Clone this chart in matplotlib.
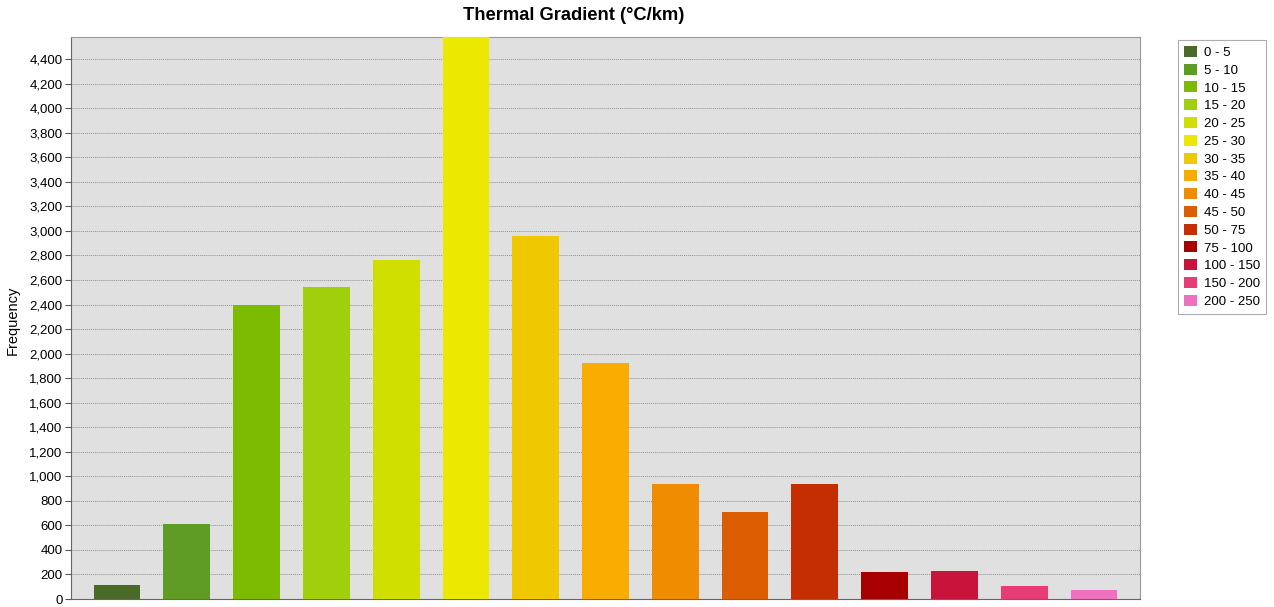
import matplotlib
matplotlib.use("Agg")
import matplotlib.pyplot as plt
from matplotlib.patches import Patch
from matplotlib.ticker import FuncFormatter, MultipleLocator

# classes de gradient et frequences
classes = ["0 - 5", "5 - 10", "10 - 15", "15 - 20", "20 - 25", "25 - 30", "30 - 35", "35 - 40",
           "40 - 45", "45 - 50", "50 - 75", "75 - 100", "100 - 150", "150 - 200", "200 - 250"]
frequency = [115, 615, 2395, 2545, 2765, 4700, 2955, 1925, 940, 710, 940, 220, 230, 106, 75]
colors = ["#4a6b28", "#5e9c24", "#7dbb00", "#a0cf0c", "#d0df00", "#ece800", "#f0c800", "#f8ac00",
          "#f08c00", "#dc5c00", "#c42e00", "#a80000", "#c8143a", "#e83c78", "#f070c0"]

plt.rcParams['font.family'] = ['Liberation Sans', 'DejaVu Sans']

fig = plt.figure(figsize=(12.74, 6.07), dpi=100)
ax = fig.add_axes([71/1274, 8/607, (1140-71)/1274, (599-37)/607])

x = list(range(len(classes)))
ax.bar(x, frequency, width=0.67, color=colors, zorder=3)

ax.set_facecolor("#e0e0e0")
ax.set_xlim(-0.66, len(classes) - 1 + 0.66)
ax.set_ylim(0, 4580)
ax.yaxis.set_major_locator(MultipleLocator(200))
ax.yaxis.set_major_formatter(FuncFormatter(lambda v, p: f"{int(v):,}"))
ax.grid(axis='y', color='#909090', linestyle=(0, (1, 1)), linewidth=0.7, zorder=0)
ax.set_xticks([])
ax.tick_params(axis='y', labelsize=9.5, length=4, color='#555555', pad=2)

for s in ['top', 'right']:
    ax.spines[s].set_color('#999999')
for s in ['left', 'bottom']:
    ax.spines[s].set_color('#666666')

ax.set_ylabel("Frequency", fontsize=10.5)
ax.yaxis.set_label_coords(-0.0475, 0.495)

fig.text(574/1274, 1 - 16/607, "Thermal Gradient (°C/km)", ha='center', va='center',
         fontsize=13.2, fontweight='bold')

handles = [Patch(facecolor=c, edgecolor='none', label=l) for c, l in zip(colors, classes)]
leg = fig.legend(handles=handles, loc='upper left', bbox_to_anchor=(1178/1274, 1 - 40/607),
                 fontsize=9.5, frameon=True, fancybox=False, handlelength=1.0, handleheight=0.9,
                 handletextpad=0.5, labelspacing=0.36, borderpad=0.45, borderaxespad=0)
leg.get_frame().set_edgecolor('#999999')
leg.get_frame().set_linewidth(0.8)

fig.savefig("out.png", dpi=100)
